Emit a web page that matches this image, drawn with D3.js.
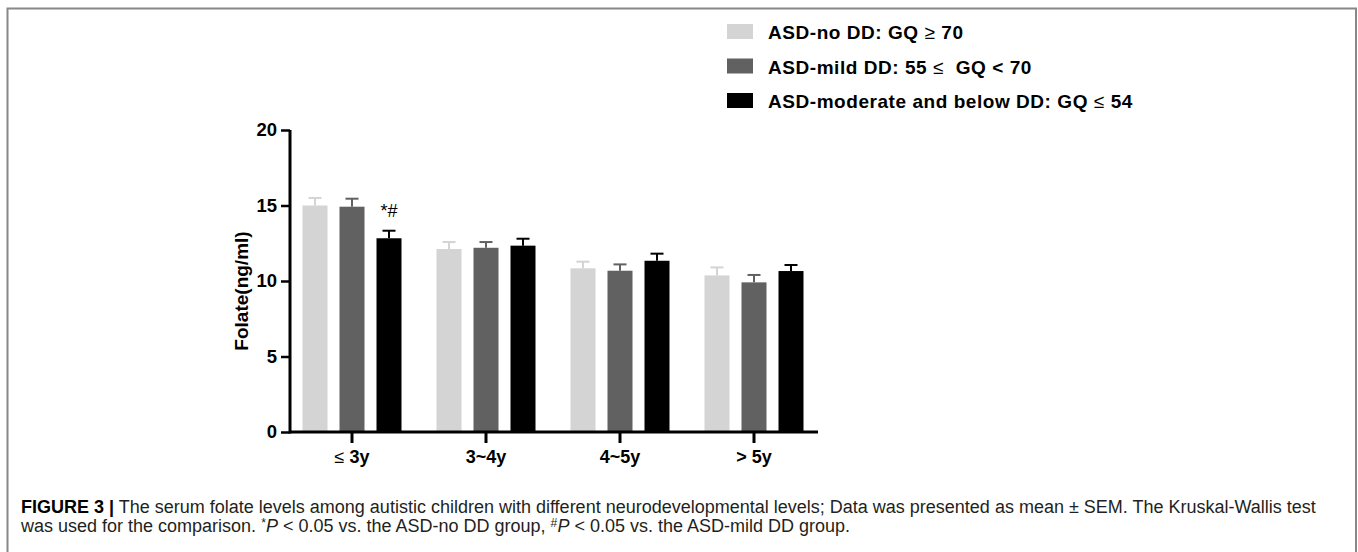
<!DOCTYPE html>
<html>
<head>
<meta charset="utf-8">
<script src="https://cdn.jsdelivr.net/npm/d3@7"></script>
<style>
  html, body { margin: 0; padding: 0; background: #fff; }
  svg { display: block; }
  text { font-family: "Liberation Sans", Arial, sans-serif; }
</style>
</head>
<body>
<svg id="chart" width="1358" height="552"></svg>
<script>
// ---- data ----
const categories = ["≤ 3y", "3~4y", "4~5y", "> 5y"];
const seriesNames = ["ASD-no DD: GQ ≥ 70", "ASD-mild DD: 55 ≤  GQ < 70", "ASD-moderate and below DD: GQ ≤ 54"];
const noDD      = [15.0, 12.12, 10.84, 10.37];
const noDDsem   = [0.5, 0.46, 0.44, 0.53];
const mildDD    = [14.92, 12.2, 10.68, 9.91];
const mildDDsem = [0.53, 0.38, 0.42, 0.49];
const modDD     = [12.83, 12.34, 11.34, 10.66];
const modDDsem  = [0.5, 0.46, 0.47, 0.4];
const yTicks = [0, 5, 10, 15, 20];
const annotations = [{ cat: "≤ 3y", series: 2, text: "*#" }];
const yLabel = "Folate(ng/ml)";

const seriesData = [
  { name: seriesNames[0], values: noDD, sem: noDDsem, color: "#d4d4d4" },
  { name: seriesNames[1], values: mildDD, sem: mildDDsem, color: "#616161" },
  { name: seriesNames[2], values: modDD, sem: modDDsem, color: "#000000" }
];

const svg = d3.select("#chart");

// frame
svg.append("path")
  .attr("d", "M7.5,552 L7.5,8.5 L1356,8.5 L1356,552")
  .attr("fill", "none").attr("stroke", "#888").attr("stroke-width", 2);

// scales
const y = d3.scaleLinear().domain([0, 20]).range([432, 130]);
const x0 = d3.scaleBand().domain(categories).range([285, 821]);
const x1 = d3.scaleBand().domain(d3.range(seriesData.length)).range([-49.5, 49.5]).paddingInner(12 / 37);
const xAxisStart = 290, xAxisEnd = 818;

// bars
const groups = svg.append("g").selectAll("g")
  .data(categories).join("g")
  .attr("transform", d => `translate(${x0(d) + x0.bandwidth() / 2},0)`);

groups.each(function (cat, ci) {
  const g = d3.select(this);
  seriesData.forEach((s, si) => {
    const v = s.values[ci], e = s.sem[ci];
    const bx = x1(si), bw = x1.bandwidth();
    // error bar (upper only)
    g.append("line")
      .attr("x1", bx + bw / 2).attr("x2", bx + bw / 2)
      .attr("y1", y(v)).attr("y2", y(v + e))
      .attr("stroke", s.color).attr("stroke-width", 2);
    g.append("line")
      .attr("x1", bx + bw / 2 - 6.5).attr("x2", bx + bw / 2 + 6.5)
      .attr("y1", y(v + e)).attr("y2", y(v + e))
      .attr("stroke", s.color).attr("stroke-width", 2);
    g.append("rect")
      .attr("x", bx).attr("width", bw)
      .attr("y", y(v)).attr("height", y(0) - y(v))
      .attr("fill", s.color);
  });
});

// annotations
annotations.forEach(a => {
  const ci = categories.indexOf(a.cat);
  const s = seriesData[a.series];
  svg.append("text")
    .attr("x", x0(a.cat) + x0.bandwidth() / 2 + x1(a.series) + x1.bandwidth() / 2)
    .attr("y", y(s.values[ci] + s.sem[ci]) - 14)
    .attr("text-anchor", "middle")
    .attr("font-size", 18)
    .attr("fill", "#000")
    .text(a.text);
});

// y axis
const yAxis = svg.append("g").attr("transform", `translate(${xAxisStart},0)`)
  .call(d3.axisLeft(y).tickValues(yTicks).tickSize(9).tickPadding(4).tickFormat(d3.format("d")));
yAxis.select(".domain").attr("stroke-width", 3).attr("d", `M0,${y(0) + 1.5}V${y(20)}`);
yAxis.selectAll(".tick line").attr("stroke-width", 2.5);
yAxis.selectAll(".tick text").attr("font-size", 18.5).attr("font-weight", "bold")
  .attr("font-family", "Liberation Sans, Arial, sans-serif").attr("fill", "#000");

// x axis
const xAxis = svg.append("g").attr("transform", `translate(0,${y(0)})`)
  .call(d3.axisBottom(x0).tickSize(11).tickPadding(7));
xAxis.select(".domain").attr("stroke-width", 3).attr("d", `M${xAxisStart},0H${xAxisEnd}`);
xAxis.selectAll(".tick line").attr("stroke-width", 3);
xAxis.selectAll(".tick text").attr("font-size", 18).attr("font-weight", "bold")
  .attr("font-family", "Liberation Sans, Arial, sans-serif").attr("fill", "#000")
  .each(function (d) {
    const t = d3.select(this);
    if (d.startsWith("≤")) {
      t.text(null);
      t.append("tspan").attr("font-weight", "normal").text("≤ ");
      t.append("tspan").text(d.slice(2));
    }
  });

// y label
svg.append("text")
  .attr("transform", `translate(248,${(y(0) + y(20)) / 2 + 10}) rotate(-90)`)
  .attr("text-anchor", "middle")
  .attr("font-size", 19).attr("font-weight", "bold").attr("fill", "#000")
  .text(yLabel);

// legend
const legend = svg.append("g").selectAll("g").data(seriesData).join("g")
  .attr("transform", (d, i) => `translate(727,${24 + i * 34.5})`);
legend.append("rect").attr("width", 26).attr("height", 15).attr("fill", d => d.color);
legend.append("text")
  .attr("x", 41).attr("y", 15)
  .attr("font-size", 19).attr("font-weight", "bold").attr("fill", "#000")
  .attr("letter-spacing", 0.55)
  .style("white-space", "pre")
  .each(function (d) {
    const t = d3.select(this);
    d.name.split(/([≤≥])/).forEach(part => {
      if (!part) return;
      const sp = t.append("tspan").text(part);
      if (part === "≤" || part === "≥") sp.attr("font-weight", "normal");
    });
  });

// caption
const cap1 = svg.append("text").attr("x", 21).attr("y", 513).attr("font-size", 16).attr("fill", "#231f20");
cap1.append("tspan").attr("font-weight", "bold").attr("fill", "#000").text("FIGURE 3 |");
cap1.append("tspan").text(" The serum folate levels among autistic children with different neurodevelopmental levels; Data was presented as mean ± SEM. The Kruskal-Wallis test");

const cap2 = svg.append("text").attr("x", 21).attr("y", 532).attr("font-size", 16).attr("fill", "#231f20");
cap2.append("tspan").text("was used for the comparison. ");
cap2.append("tspan").attr("font-size", 11).attr("dy", -5).text("*");
cap2.append("tspan").attr("font-style", "italic").attr("dy", 5).text("P");
cap2.append("tspan").text(" < 0.05 vs. the ASD-no DD group, ");
cap2.append("tspan").attr("font-size", 11).attr("dy", -5).text("#");
cap2.append("tspan").attr("font-style", "italic").attr("dy", 5).text("P");
cap2.append("tspan").text(" < 0.05 vs. the ASD-mild DD group.");

// fit caption width to reference line length
const target = 1296;
const len = cap1.node().getComputedTextLength();
const fs = 16 * target / len;
cap1.attr("font-size", fs);
cap2.attr("font-size", fs);
cap2.selectAll("tspan").filter(function () { return d3.select(this).attr("font-size"); }).attr("font-size", fs * 0.68);
</script>
</body>
</html>
